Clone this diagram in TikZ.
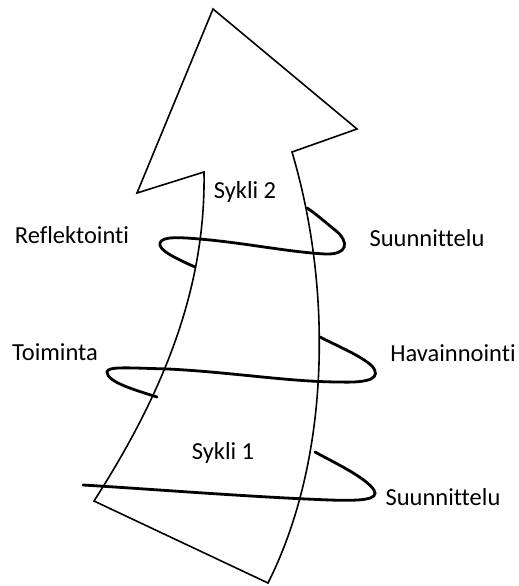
\documentclass[tikz,border=0pt]{standalone}
\usepackage{fontspec}
\setmainfont{Carlito}[Ligatures=NoCommon]
\begin{document}
\begin{tikzpicture}[x=1pt,y=-1pt,
  outline/.style={draw=black,line width=1.6pt,line join=miter},
  helix/.style={draw=black,line width=2.8pt,line cap=round},
  lbl/.style={font=\fontsize{24.5}{28}\selectfont,inner sep=0pt,anchor=center}]
\useasboundingbox (0,0) rectangle (519,586);
% arrow
\draw[outline] (213,9) -- (357,129) -- (292,152)
  .. controls (333,290) and (330,460) .. (268,583)
  -- (94,501)
  .. controls (162,395) and (206,290) .. (204,172)
  -- (137,193) -- cycle;
% helix loops
\draw[helix] (195,267) .. controls (175,258) and (158,250) .. (160,243)
  .. controls (162,236) and (180,237) .. (210,240)
  .. controls (250,244) and (290,252) .. (325,254)
  .. controls (348,255) and (350,242) .. (335,230)
  .. controls (325,222) and (315,213) .. (307,208);
\draw[helix] (157,397) .. controls (135,390) and (107,382) .. (107,372)
  .. controls (107,366) and (130,368) .. (168,369)
  .. controls (230,372) and (290,382) .. (340,382)
  .. controls (370,383) and (382,378) .. (372,366)
  .. controls (360,355) and (335,345) .. (320,337);
\draw[helix] (83,485) .. controls (150,489) and (250,497) .. (330,500)
  .. controls (360,501) and (380,500) .. (374,490)
  .. controls (365,477) and (335,463) .. (315,452);
% labels
\node[lbl] (s2) at (245,192) {Sykli 2};
\node[lbl] (refl) at (72,235) {Reflektointi};
\node[lbl] (suun2) at (427,238) {Suunnittelu};
\node[lbl] (toim) at (55,352) {Toiminta};
\node[lbl] (hav) at (453,353) {Havainnointi};
\node[lbl] (s1) at (223,453) {Sykli 1};
\node[lbl] (suun1) at (443,497) {Suunnittelu};
\end{tikzpicture}
\end{document}
